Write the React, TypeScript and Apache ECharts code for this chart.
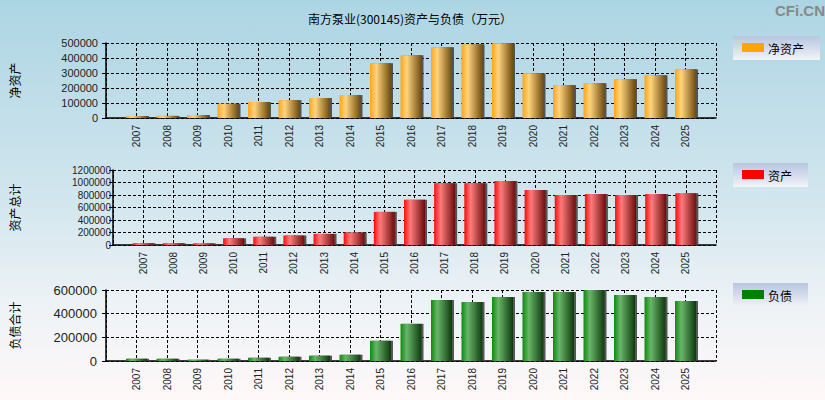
import React, { useEffect, useRef } from "react";
import * as echarts from "echarts";

const years = ["2007", "2008", "2009", "2010", "2011", "2012", "2013", "2014", "2015", "2016", "2017", "2018", "2019", "2020", "2021", "2022", "2023", "2024", "2025"];
const netAssets = [13000, 14000, 20000, 95000, 106000, 119000, 133000, 153000, 365000, 418000, 471000, 491000, 498000, 299000, 219000, 232000, 259000, 285000, 325000];
const totalAssets = [28000, 28000, 26000, 108000, 133000, 152000, 178000, 200000, 530000, 725000, 990000, 990000, 1025000, 880000, 800000, 818000, 800000, 818000, 830000];
const liabilities = [19000, 19000, 11000, 19000, 28000, 36000, 45000, 53000, 171000, 314000, 516000, 499000, 541000, 583000, 583000, 600000, 558000, 541000, 508000];

const titleText = "南方泵业(300145)资产与负债（万元）";
const panelNames = ["净资产", "资产总计", "负债合计"];
const legendNames = ["净资产", "资产", "负债"];
const legendColors = ["#FFA500", "#FF0000", "#008000"];
const yMax = [500000, 1200000, 600000];
const yInterval = [100000, 200000, 200000];

const FONT = "'Liberation Sans', Arial, sans-serif";
const CJK = "'Noto Sans CJK SC', sans-serif";

function grad(c0: string, c1: string, c2: string) {
  return new echarts.graphic.LinearGradient(0, 0, 1, 0, [
    { offset: 0, color: c0 },
    { offset: 0.3, color: c1 },
    { offset: 1, color: c2 },
  ]);
}

export default function App() {
  const ref = useRef<HTMLDivElement>(null);
  useEffect(() => {
    if (!ref.current) return;
    const chart = echarts.init(ref.current, undefined, { renderer: "svg" });
    const cats = ["", ...years, ""];
    const pad = (a: number[]) => [null, ...a, null];
    const grids = [
      { left: 99, top: 43, width: 617, height: 75 },
      { left: 107, top: 170, width: 609, height: 75 },
      { left: 99, top: 290, width: 617, height: 71 },
    ];
    const labelSizes = [11, 10, 13];
    const labelMargins = [8, 2, 9];
    const nameGaps = [86, 93, 86];
    const dash = { color: "#000", width: 1, type: [3, 2] as any };
    const xAxes = grids.map((_, i) => ({
      type: "category" as const,
      gridIndex: i,
      data: cats,
      boundaryGap: false,
      axisLine: { lineStyle: { color: "#000", width: 1.5 } },
      axisTick: { show: false },
      axisLabel: { interval: 0, rotate: 90, fontSize: 10, color: "#222", fontFamily: FONT, margin: 7 },
      splitLine: { show: true, lineStyle: dash },
    }));
    const yAxes = grids.map((_, i) => ({
      type: "value" as const,
      gridIndex: i,
      min: 0,
      max: yMax[i],
      interval: yInterval[i],
      name: panelNames[i],
      nameLocation: "middle" as const,
      nameRotate: 90,
      nameGap: nameGaps[i],
      nameTextStyle: { fontSize: 12, color: "#000", fontFamily: CJK },
      axisLine: { show: true, lineStyle: { color: "#000", width: 1.5 } },
      axisTick: { show: true, length: 4, lineStyle: { color: "#000" } },
      axisLabel: {
        fontSize: labelSizes[i],
        color: "#222",
        fontFamily: FONT,
        margin: labelMargins[i],
        formatter: (v: number) => String(v),
      },
      splitLine: { show: true, lineStyle: dash },
    }));
    const fills = [
      grad("#FFA519", "#FFD47E", "#6E4B0E"),
      grad("#FF0A0A", "#FF7C7C", "#6A0C0C"),
      grad("#0E8A0E", "#6AB56A", "#0D3A0D"),
    ];
    const datas = [netAssets, totalAssets, liabilities];
    const series = datas.map((d, i) => ({
      type: "bar" as const,
      name: legendNames[i],
      xAxisIndex: i,
      yAxisIndex: i,
      data: pad(d),
      barWidth: 21,
      itemStyle: { color: fills[i], shadowColor: "rgba(70,70,70,0.9)", shadowOffsetX: 2, shadowOffsetY: 0, shadowBlur: 0 },
    }));
    const legendTops = [36, 163, 283];
    const legendWidths = [87, 75, 75];
    const legendGraphics: any[] = [];
    legendTops.forEach((t, i) => {
      legendGraphics.push({
        type: "rect",
        shape: { x: 733, y: t, width: legendWidths[i], height: 24 },
        style: {
          fill: new echarts.graphic.LinearGradient(0, 0, 0, 1, [
            { offset: 0, color: "#B7C6E0" },
            { offset: 1, color: "#F2F3F8" },
          ]),
        },
      });
      legendGraphics.push({
        type: "rect",
        shape: { x: 742, y: t + 7, width: 22, height: 9 },
        style: { fill: legendColors[i] },
      });
      legendGraphics.push({
        type: "text",
        x: 768,
        y: t + 12,
        style: { text: legendNames[i], fontSize: 12, fill: "#000", fontFamily: CJK, verticalAlign: "middle" },
      });
    });
    chart.setOption({
      animation: false,
      backgroundColor: "transparent",
      grid: grids,
      xAxis: xAxes,
      yAxis: yAxes,
      series,
      graphic: [
        {
          type: "text",
          x: 410,
          y: 18,
          style: { text: titleText, fontSize: 12, fill: "#000", fontFamily: CJK, align: "center", verticalAlign: "middle" },
        },
        {
          type: "text",
          x: 800,
          y: 10,
          style: { text: "CFi.CN", fontSize: 15, fontWeight: "bold", fill: "#888", fontFamily: FONT, align: "center", verticalAlign: "middle" },
        },
        ...legendGraphics,
      ],
    });
    return () => chart.dispose();
  }, []);
  return (
    <div
      ref={ref}
      style={{
        position: "fixed",
        left: 0,
        top: 0,
        width: 825,
        height: 400,
        background: "linear-gradient(to bottom, #ACD5E3 0%, #D2E6EE 50%, #ECF2F6 75%, #FFF8F8 100%)",
      }}
    />
  );
}
